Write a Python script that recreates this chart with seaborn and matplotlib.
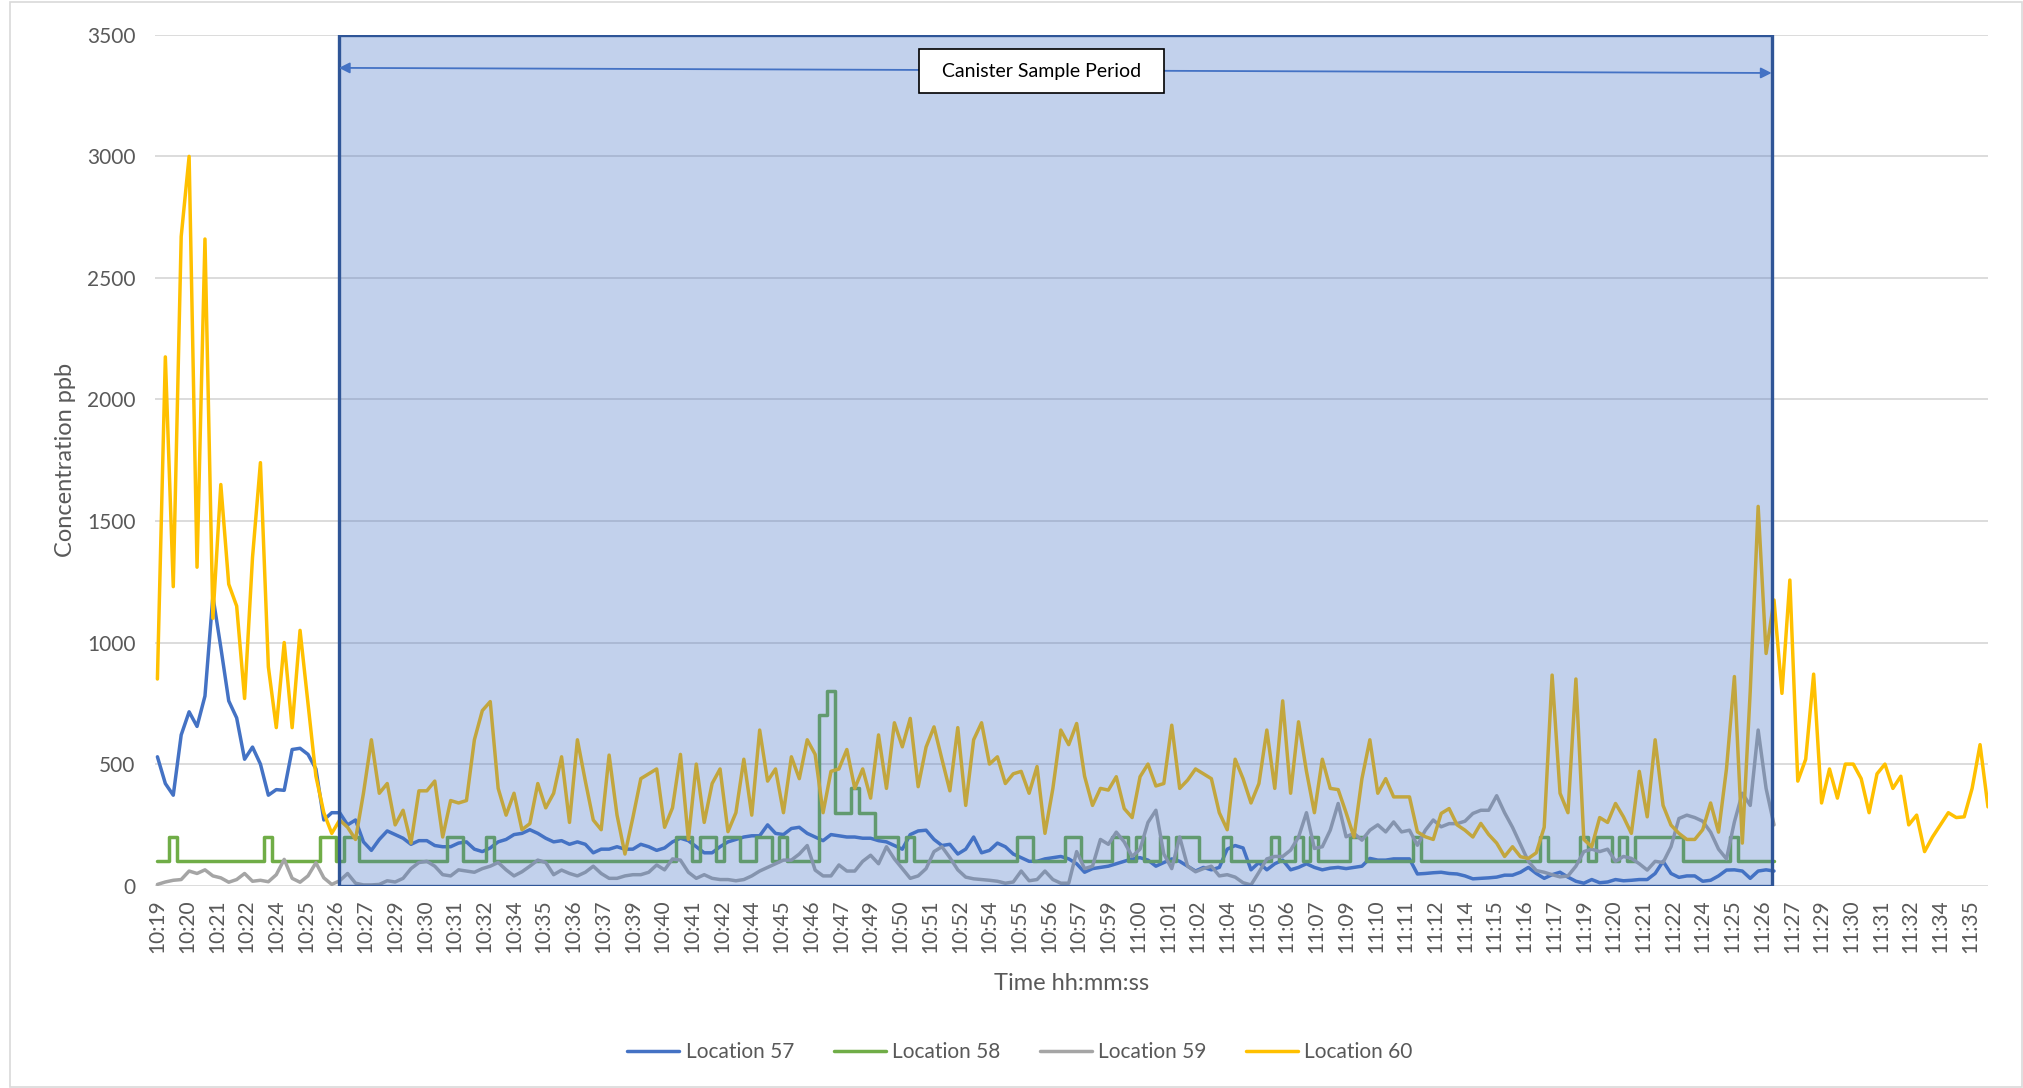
"""
Concentration time series at four locations with the canister sample period.
"""
import numpy as np
import pandas as pd
import matplotlib
matplotlib.use("Agg")
import matplotlib.pyplot as plt
from matplotlib.patches import Rectangle
import seaborn as sns

# ── Data (one value every 20 s from 10:19:00) ─────────────────────────────
START = "10:19:00"
STEP_S = 20

LOC57 = [
    530, 420, 372, 620, 715, 655, 780, 1190, 980, 760, 690, 520, 570, 500, 372, 395, 392, 560, 565, 540,
    480, 270, 300, 300, 250, 270, 180, 145, 190, 225, 210, 195, 170, 185, 185, 165, 160, 160, 175, 180,
    150, 140, 155, 180, 190, 210, 215, 230, 215, 195, 180, 185, 170, 180, 170, 135, 150, 150, 160, 150,
    150, 170, 160, 145, 155, 180, 195, 185, 160, 135, 135, 160, 180, 190, 200, 205, 205, 250, 215, 210,
    235, 240, 215, 200, 185, 210, 205, 200, 200, 195, 195, 185, 180, 165, 150, 210, 225, 228, 190, 165,
    170, 130, 150, 200, 135, 145, 175, 160, 130, 115, 100, 100, 110, 115, 120, 110, 90, 55, 70, 75,
    80, 90, 100, 110, 115, 105, 80, 95, 110, 100, 80, 60, 75, 65, 75, 150, 165, 155, 65, 95,
    65, 90, 105, 65, 75, 90, 75, 65, 72, 75, 70, 75, 80, 112, 105, 105, 110, 110, 110, 48,
    50, 53, 55, 50, 48, 40, 28, 30, 32, 35, 43, 43, 55, 75, 50, 30, 45, 55, 35, 18,
    10, 25, 12, 15, 25, 20, 22, 25, 25, 50, 100, 50, 34, 40, 40, 18, 22, 40, 64, 65,
    60, 30, 60, 65, 60,
]

LOC58 = [
    100, 100, 200, 100, 100, 100, 100, 100, 100, 100, 100, 100, 100, 100, 200, 100, 100, 100, 100, 100,
    100, 200, 200, 100, 200, 200, 100, 100, 100, 100, 100, 100, 100, 100, 100, 100, 100, 200, 200, 100,
    100, 100, 200, 100, 100, 100, 100, 100, 100, 100, 100, 100, 100, 100, 100, 100, 100, 100, 100, 100,
    100, 100, 100, 100, 100, 100, 200, 200, 100, 200, 200, 100, 200, 200, 100, 100, 200, 200, 100, 200,
    100, 100, 100, 100, 700, 800, 300, 300, 400, 300, 300, 200, 200, 200, 100, 200, 100, 100, 100, 100,
    100, 100, 100, 100, 100, 100, 100, 100, 100, 200, 200, 100, 100, 100, 100, 200, 200, 100, 100, 100,
    100, 200, 200, 100, 200, 100, 100, 200, 100, 200, 200, 200, 100, 100, 100, 200, 100, 100, 100, 100,
    100, 200, 100, 100, 200, 100, 200, 100, 100, 100, 100, 200, 200, 100, 100, 100, 100, 100, 100, 200,
    100, 100, 100, 100, 100, 100, 100, 100, 100, 100, 100, 100, 100, 100, 100, 200, 100, 100, 100, 100,
    200, 100, 200, 200, 100, 200, 100, 200, 200, 200, 200, 200, 200, 100, 100, 100, 100, 100, 100, 200,
    100, 100, 100, 100, 100,
]

LOC59 = [
    5, 15, 22, 25, 60, 50, 65, 40, 32, 14, 25, 50, 18, 22, 16, 45, 108, 30, 14, 40,
    94, 32, 5, 20, 50, 10, 3, 3, 5, 20, 15, 30, 70, 95, 100, 80, 45, 40, 65, 60,
    55, 70, 80, 95, 65, 40, 57, 80, 105, 95, 45, 64, 50, 40, 55, 80, 50, 30, 30, 40,
    45, 45, 55, 85, 65, 110, 105, 55, 30, 45, 30, 25, 25, 20, 25, 40, 60, 75, 90, 105,
    105, 130, 165, 64, 40, 40, 85, 60, 60, 100, 125, 90, 160, 110, 70, 30, 40, 70, 140, 160,
    115, 65, 35, 28, 25, 22, 18, 10, 15, 60, 20, 25, 60, 25, 10, 10, 140, 70, 80, 190,
    170, 220, 180, 120, 150, 260, 310, 130, 70, 200, 80, 57, 70, 80, 40, 45, 35, 12, 3, 55,
    110, 120, 120, 146, 200, 300, 153, 160, 228, 338, 201, 215, 187, 228, 250, 221, 262, 221, 228, 166,
    228, 270, 242, 255, 255, 265, 297, 310, 310, 370, 300, 240, 170, 100, 62, 55, 45, 36, 40, 80,
    140, 150, 140, 150, 100, 120, 112, 90, 64, 100, 95, 160, 276, 290, 280, 265, 220, 150, 110, 262,
    380, 330, 640, 400, 250,
]

LOC60 = [
    850, 2175, 1230, 2670, 3000, 1310, 2660, 1100, 1650, 1240, 1150, 770, 1350, 1740, 900, 650, 1000, 650, 1050, 750,
    450, 300, 215, 270, 240, 190, 380, 600, 380, 420, 250, 310, 175, 390, 390, 430, 200, 350, 340, 350,
    600, 720, 757, 400, 290, 380, 230, 255, 420, 320, 380, 530, 260, 600, 430, 270, 230, 537, 290, 130,
    280, 440, 460, 480, 240, 320, 540, 190, 500, 260, 420, 480, 222, 300, 520, 290, 640, 430, 480, 300,
    530, 440, 600, 540, 300, 470, 480, 560, 400, 480, 360, 620, 400, 670, 571, 688, 407, 570, 653, 520,
    390, 650, 330, 600, 670, 500, 530, 420, 460, 470, 380, 490, 215, 400, 640, 580, 667, 450, 330, 400,
    393, 448, 317, 280, 448, 500, 410, 420, 660, 400, 434, 480, 460, 440, 300, 230, 520, 440, 340, 420,
    640, 400, 760, 380, 674, 470, 300, 520, 400, 395, 300, 200, 440, 600, 380, 440, 365, 365, 365, 221,
    201, 190, 297, 317, 250, 228, 200, 256, 210, 175, 120, 160, 119, 112, 135, 240, 866, 380, 300, 850,
    190, 160, 280, 260, 338, 283, 215, 470, 283, 600, 330, 249, 215, 190, 190, 230, 340, 220, 480, 860,
    175, 800, 1560, 955, 1175, 791, 1257, 430, 520, 870, 340, 480, 360, 500, 500, 440, 300, 460, 500, 400,
    450, 250, 290, 140, 200, 250, 300, 280, 283, 400, 580, 324,
]

TICK_LABELS = [
    "10:19", "10:20", "10:21", "10:22", "10:24", "10:25", "10:26", "10:27", "10:29", "10:30",
    "10:31", "10:32", "10:34", "10:35", "10:36", "10:37", "10:39", "10:40", "10:41", "10:42",
    "10:44", "10:45", "10:46", "10:47", "10:49", "10:50", "10:51", "10:52", "10:54", "10:55",
    "10:56", "10:57", "10:59", "11:00", "11:01", "11:02", "11:04", "11:05", "11:06", "11:07",
    "11:09", "11:10", "11:11", "11:12", "11:14", "11:15", "11:16", "11:17", "11:19", "11:20",
    "11:21", "11:22", "11:24", "11:25", "11:26", "11:27", "11:29", "11:30", "11:31", "11:32",
    "11:34", "11:35",
]
TICK_STEP_S = 75

CANISTER_START = "10:26:38"
CANISTER_END = "11:26:54"
CANISTER_LABEL = "Canister Sample Period"

SERIES = {
    "Location 57": LOC57,
    "Location 58": LOC58,
    "Location 59": LOC59,
    "Location 60": LOC60,
}
COLORS = {
    "Location 57": "#4472C4",
    "Location 58": "#70AD47",
    "Location 59": "#A5A5A5",
    "Location 60": "#FFC000",
}
TEXT_GREY = "#595959"
GRID_GREY = "#D9D9D9"


def secs(hms: str) -> float:
    """Seconds after the first sample."""
    return (pd.Timedelta(hms) - pd.Timedelta(START)).total_seconds()


# ── Style ─────────────────────────────────────────────────────────────────
sns.set_style("white")
plt.rcParams["font.family"] = ["Lato", "DejaVu Sans"]

frames = []
for name, vals in SERIES.items():
    frames.append(pd.DataFrame({
        "t": np.arange(len(vals)) * STEP_S,
        "ppb": vals,
        "Location": name,
    }))
df = pd.concat(frames, ignore_index=True)

fig = plt.figure(figsize=(20.24, 10.88), dpi=100)
ax = fig.add_axes([0.0766, 0.186, 0.9056, 0.782])

for name in SERIES:
    sub = df[df["Location"] == name]
    sns.lineplot(data=sub, x="t", y="ppb", ax=ax, color=COLORS[name], lw=2.5,
                 estimator=None, sort=False, legend=False,
                 drawstyle="steps-mid" if name == "Location 58" else "default",
                 zorder=3)

# Canister sample period (semi-transparent box on top of the lines)
c0, c1 = secs(CANISTER_START), secs(CANISTER_END)
ax.add_patch(Rectangle((c0, 0), c1 - c0, 3500, facecolor="#4472C4", alpha=0.32,
                       edgecolor="none", zorder=5))
ax.add_patch(Rectangle((c0, 0), c1 - c0, 3500, fill=False, edgecolor="#2F5597",
                       lw=2.4, zorder=6))
ax.annotate("", xy=(c0, 3364), xytext=(c1, 3343),
            arrowprops=dict(arrowstyle="<|-|>", color="#4472C4", lw=1.3,
                            shrinkA=0, shrinkB=0, mutation_scale=16),
            zorder=7)
mid = (c0 + c1) / 2 - 35
ax.add_patch(Rectangle((mid - 310, 3262), 620, 180, facecolor="white",
                       edgecolor="black", lw=1.2, zorder=8))
ax.text(mid, 3350, CANISTER_LABEL, ha="center", va="center", fontsize=14,
        color="black", zorder=9)

# Axes
ax.set_xlim(-6, 4620)
ax.set_ylim(0, 3500)
ax.set_yticks(np.arange(0, 3501, 500))
ax.set_xticks(np.arange(len(TICK_LABELS)) * TICK_STEP_S)
ax.set_xticklabels(TICK_LABELS, rotation=90)
ax.tick_params(axis="both", length=0, labelsize=15, colors=TEXT_GREY)
ax.tick_params(axis="y", pad=14)
ax.tick_params(axis="x", pad=10)
ax.grid(axis="y", color=GRID_GREY, lw=1.3, zorder=0)
ax.set_axisbelow(True)
for side in ("top", "right", "left", "bottom"):
    ax.spines[side].set_visible(False)

ax.set_xlabel("Time hh:mm:ss", fontsize=17, color=TEXT_GREY, labelpad=14)
ax.set_ylabel("Concentration ppb", fontsize=17, color=TEXT_GREY)
ax.yaxis.set_label_coords(-0.043, 0.5)

handles = [plt.Line2D([], [], color=COLORS[n], lw=2.5) for n in SERIES]
fig.legend(handles, list(SERIES), loc="center", bbox_to_anchor=(0.504, 0.033),
           ncol=4, frameon=False, fontsize=15, handlelength=2.5,
           handletextpad=0.3, columnspacing=1.9, labelcolor=TEXT_GREY)

# Chart-area border
fig.add_artist(Rectangle((0.005, 0.001), 0.994, 0.997, transform=fig.transFigure,
                         fill=False, edgecolor=GRID_GREY, lw=1.2))

fig.savefig("out.png", dpi=100)
plt.close(fig)
